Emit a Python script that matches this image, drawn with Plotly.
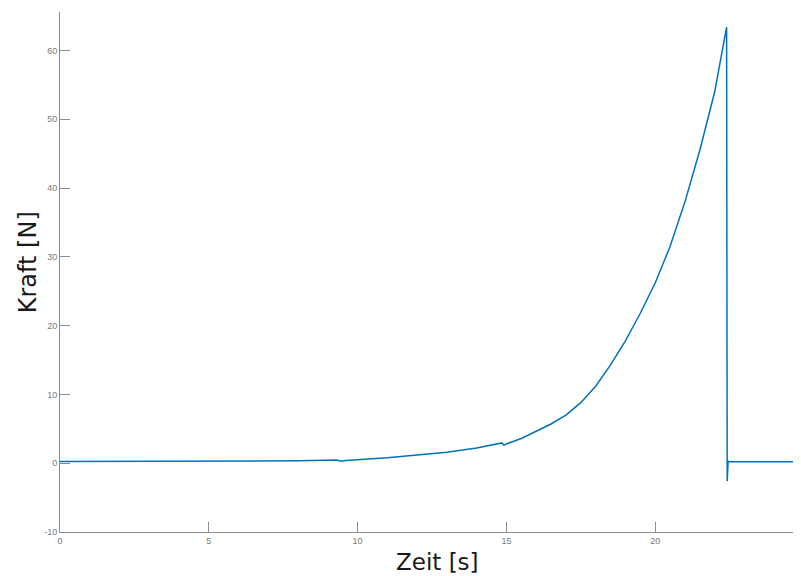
import plotly.graph_objects as go

# Time [s] and force [N]
zeit = [0, 2, 4, 6, 8, 9.3, 9.45, 9.6, 10, 11, 12, 13, 14, 14.85, 14.92, 15.0,
        15.5, 16, 16.5, 17, 17.5, 18, 18.5, 19, 19.5, 20, 20.5, 21, 21.5, 22,
        22.4, 22.42, 22.45, 22.5, 23, 24, 25]
kraft = [0.25, 0.25, 0.25, 0.28, 0.35, 0.45, 0.3, 0.4, 0.5, 0.8, 1.2, 1.6, 2.2,
         2.95, 2.6, 2.8, 3.6, 4.6, 5.7, 7.0, 8.8, 11.2, 14.3, 17.8, 21.8, 26.2,
         31.5, 38.0, 45.5, 54.0, 63.4, -2.6, 0.3, 0.2, 0.2, 0.2, 0.2]

x_ticks = [0, 5, 10, 15, 20]
y_ticks = [-10, 0, 10, 20, 30, 40, 50, 60]
x_max = 24.9

tick_font = dict(family="Liberation Sans, Arial, sans-serif", size=9, color="#7a7a7a")

fig = go.Figure()
fig.add_trace(go.Scatter(x=zeit, y=kraft, mode="lines",
                         line=dict(color="#0072BD", width=1.5),
                         showlegend=False))

axis_common = dict(
    showline=True, linecolor="#8c8c8c", linewidth=1,
    ticks="inside", ticklen=10, tickcolor="#8c8c8c", tickwidth=1,
    showgrid=False, zeroline=False, tickfont=tick_font,
)

fig.update_xaxes(range=[0, x_max], tickvals=x_ticks, ticktext=[str(v) for v in x_ticks],
                 **axis_common)
fig.update_yaxes(range=[-10, 65.6], tickvals=y_ticks, ticktext=[str(v) for v in y_ticks],
                 **axis_common)

# the clipped "25" tick label at the right edge
fig.add_annotation(text="25", xref="paper", yref="paper", x=25 / x_max, y=0,
                   xanchor="center", yanchor="top", yshift=-2, showarrow=False,
                   font=tick_font)
fig.add_annotation(text="Zeit [s]", xref="paper", yref="paper", x=0.509, y=-0.058,
                   xanchor="center", yanchor="middle", showarrow=False,
                   font=dict(family="DejaVu Sans, sans-serif", size=23, color="#1a1a1a"))
fig.add_annotation(text="Kraft [N]", xref="paper", yref="paper", x=-0.043, y=0.519,
                   xanchor="center", yanchor="middle", textangle=-90, showarrow=False,
                   font=dict(family="DejaVu Sans, sans-serif", size=24, color="#1a1a1a"))

fig.update_layout(
    width=793, height=568,
    margin=dict(l=52, r=0, t=4, b=44),
    plot_bgcolor="white", paper_bgcolor="white",
)

fig.write_html("out.html")
